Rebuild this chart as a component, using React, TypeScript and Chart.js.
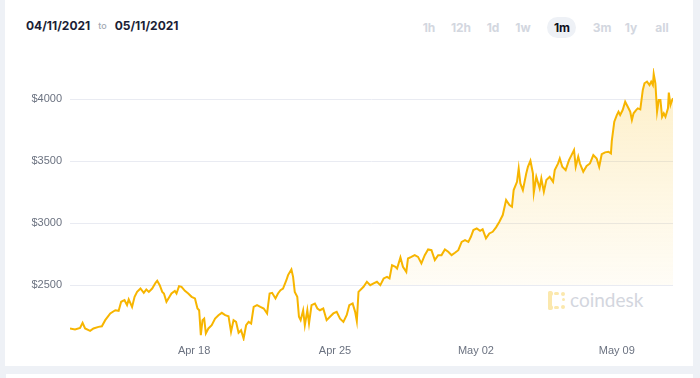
import React, { useEffect, useRef } from "react";
import { Chart, registerables } from "chart.js";

Chart.register(...registerables);

// hours since 2021-04-11 00:00
const hours = [
  20, 26, 32, 35, 38, 44, 48, 54, 58, 62, 68, 74, 78, 81, 85, 88, 90, 94, 97, 100,
  104, 108, 111, 114, 118, 122, 124, 127, 130, 132, 135, 139, 141, 145, 147, 150, 153, 157, 161, 165,
  169, 172, 174, 176, 178, 180, 182, 185, 189, 193, 197, 201, 205, 209, 212, 215, 218, 221, 224, 227,
  230, 233, 236, 239, 243, 247, 251, 255, 258, 261, 265, 268, 271, 274, 278, 280, 284, 286, 288, 291,
  293, 295, 298, 300, 303, 305, 308, 312, 315, 318, 322, 326, 330, 334, 338, 342, 346, 350, 353, 357,
  360, 362, 364, 370, 374, 378, 382, 386, 390, 394, 398, 401, 404, 408, 410, 414, 417, 421, 423, 427,
  431, 435, 439, 443, 447, 451, 455, 459, 463, 467, 471, 475, 479, 483, 487, 491, 495, 498, 501, 505,
  509, 512, 516, 520, 524, 528, 532, 536, 540, 544, 547, 549, 553, 555, 557, 560, 564, 566, 569, 572,
  573, 576, 580, 582, 585, 588, 592, 596, 598, 602, 604, 607, 611, 615, 618, 621, 623, 626, 628, 632,
  636, 640, 644, 648, 651, 654, 658, 662, 665, 666, 669, 672, 674, 676, 679, 682, 684, 688, 690, 692,
  695, 697, 700, 703, 705, 708, 711, 713, 715, 716, 718, 720, 722, 724, 726, 728, 730, 733, 734, 736,
  738, 739,
];

const prices = [
  2151, 2143, 2156, 2196, 2151, 2132, 2151, 2164, 2169, 2218, 2272, 2298, 2293, 2366, 2379, 2339, 2385, 2325, 2406, 2446,
  2473, 2438, 2465, 2446, 2473, 2519, 2535, 2500, 2446, 2433, 2366, 2411, 2433, 2454, 2433, 2492, 2487, 2454, 2433, 2406,
  2393, 2312, 2298, 2097, 2218, 2231, 2111, 2151, 2177, 2231, 2258, 2277, 2258, 2250, 2124, 2218, 2204, 2116, 2137, 2070,
  2177, 2204, 2191, 2325, 2339, 2325, 2312, 2272, 2433, 2438, 2393, 2433, 2460, 2473, 2540, 2581, 2627, 2567, 2446, 2406,
  2245, 2218, 2298, 2177, 2298, 2191, 2339, 2352, 2312, 2298, 2312, 2218, 2245, 2272, 2285, 2230, 2204, 2260, 2339, 2352,
  2285, 2210, 2446, 2487, 2527, 2500, 2514, 2527, 2500, 2554, 2567, 2554, 2661, 2648, 2634, 2723, 2648, 2607, 2715, 2728,
  2742, 2728, 2675, 2742, 2788, 2782, 2702, 2742, 2742, 2788, 2769, 2742, 2761, 2782, 2849, 2863, 2849, 2890, 2944, 2958,
  2938, 2950, 2877, 2917, 2930, 2966, 3011, 3065, 3186, 3145, 3132, 3266, 3333, 3441, 3320, 3266, 3400, 3454, 3503, 3400,
  3245, 3373, 3280, 3360, 3253, 3347, 3373, 3333, 3427, 3481, 3521, 3454, 3427, 3508, 3548, 3589, 3454, 3535, 3480, 3414,
  3460, 3481, 3548, 3521, 3454, 3555, 3570, 3575, 3562, 3660, 3817, 3871, 3898, 3871, 3911, 3978, 3952, 3898, 3831, 3885,
  3911, 3925, 3917, 4073, 4127, 4140, 4113, 4140, 4113, 4202, 4127, 3898, 3992, 3992, 3857, 3885, 3857, 3925, 4052, 3952,
  3992, 4006,
];

const xTickHours = [168, 336, 504, 672];
const xTickLabels = ["Apr 18", "Apr 25", "May 02", "May 09"];
const yTickValues = [2500, 3000, 3500, 4000];
const yMin = 2050;
const yMax = 4250;
const fillFloor = 2500;

const ranges = ["1h", "12h", "1d", "1w", "1m", "3m", "1y", "all"];
const activeRange = "1m";
const fromDate = "04/11/2021";
const toDate = "05/11/2021";

const rangeX = [429, 461, 493, 523, 562, 602, 631, 662];

export default function App() {
  const canvasRef = useRef<HTMLCanvasElement | null>(null);

  useEffect(() => {
    const canvas = canvasRef.current;
    if (!canvas) return;
    const points = hours.map((h, i) => ({ x: h, y: prices[i] }));
    const chart = new Chart(canvas, {
      type: "line",
      data: {
        datasets: [
          {
            data: points,
            borderColor: "#f7b500",
            borderWidth: 2,
            pointRadius: 0,
            tension: 0,
            fill: "start",
            backgroundColor: (context: any) => {
              const { chart } = context;
              const area = chart.chartArea;
              const ys = chart.scales && chart.scales.y;
              if (!area || !ys) return "rgba(247,181,0,0.1)";
              const floorPx = ys.getPixelForValue(fillFloor);
              const f = Math.min(0.999, Math.max(0, (floorPx - area.top) / (area.bottom - area.top)));
              const g = chart.ctx.createLinearGradient(0, area.top, 0, area.bottom);
              g.addColorStop(0, "rgba(248,190,30,0.25)");
              g.addColorStop(f * 0.6, "rgba(248,190,30,0.12)");
              g.addColorStop(f, "rgba(248,190,30,0.04)");
              g.addColorStop(Math.min(1, f + 0.001), "rgba(248,190,30,0)");
              g.addColorStop(1, "rgba(248,190,30,0)");
              return g;
            },
          },
        ],
      },
      options: {
        animation: false,
        responsive: false,
        devicePixelRatio: 1,
        layout: { padding: { top: 68, right: 27, left: 0, bottom: 0 } },
        plugins: { legend: { display: false }, tooltip: { enabled: false } },
        scales: {
          x: {
            type: "linear",
            min: hours[0],
            max: hours[hours.length - 1],
            afterFit: (scale: any) => {
              scale.height = 37;
            },
            afterBuildTicks: (scale: any) => {
              scale.ticks = xTickHours.map((v) => ({ value: v }));
            },
            border: { display: false },
            grid: { display: false, drawTicks: false },
            ticks: {
              padding: 3,
              maxRotation: 0,
              autoSkip: false,
              color: "#6b7280",
              font: { family: "'Liberation Sans', Arial, sans-serif", size: 11 },
              callback: (value: any) => {
                const i = xTickHours.indexOf(Number(value));
                return i >= 0 ? xTickLabels[i] : "";
              },
            },
          },
          y: {
            type: "linear",
            min: yMin,
            max: yMax,
            afterFit: (scale: any) => {
              scale.width = 70;
            },
            afterBuildTicks: (scale: any) => {
              scale.ticks = yTickValues.map((v) => ({ value: v }));
            },
            border: { display: false },
            grid: { color: "#e9ebf2", lineWidth: 1, drawTicks: false },
            ticks: {
              padding: 8,
              color: "#6b7280",
              font: { family: "'Liberation Sans', Arial, sans-serif", size: 11 },
              callback: (value: any) => "$" + value,
            },
          },
        },
      },
    });
    return () => chart.destroy();
  }, []);

  const dot = (left: number, top: number, w: number, h: number) => (
    <div
      style={{
        position: "absolute",
        left,
        top,
        width: w,
        height: h,
        borderRadius: 3,
        background: "#fbe8ad",
      }}
    />
  );

  return (
    <div
      style={{
        position: "fixed",
        left: 0,
        top: 0,
        width: 700,
        height: 378,
        background: "#eef1f6",
        overflow: "hidden",
        fontFamily: "Inter, 'Noto Sans', sans-serif",
      }}
    >
      <div style={{ position: "absolute", left: 5, top: 0, width: 688, height: 366, background: "#ffffff" }} />
      <div style={{ position: "absolute", left: 6, top: 374, width: 687, height: 10, background: "#ffffff" }} />

      {/* header dates */}
      <div
        style={{
          position: "absolute",
          left: 26,
          top: 17,
          height: 16,
          display: "flex",
          alignItems: "center",
          whiteSpace: "nowrap",
        }}
      >
        <span style={{ fontSize: 12, fontWeight: 700, color: "#1b1e36" }}>{fromDate}</span>
        <span style={{ fontSize: 9, fontWeight: 500, color: "#a3a8b4", margin: "1px 8px 0 8px" }}>to</span>
        <span style={{ fontSize: 12, fontWeight: 700, color: "#1b1e36" }}>{toDate}</span>
      </div>

      {/* range pill */}
      <div
        style={{
          position: "absolute",
          left: 547,
          top: 17,
          width: 29,
          height: 21,
          borderRadius: 11,
          background: "#eef1f6",
        }}
      />
      {ranges.map((r, i) => (
        <div
          key={r}
          style={{
            position: "absolute",
            left: rangeX[i] - 20,
            top: 20,
            width: 40,
            height: 16,
            lineHeight: "16px",
            textAlign: "center",
            fontSize: 12,
            fontWeight: 700,
            color: r === activeRange ? "#0f1020" : "#d3d7df",
          }}
        >
          {r}
        </div>
      ))}

      {/* watermark */}
      <div style={{ position: "absolute", left: 548, top: 291, width: 20, height: 19 }}>
        {dot(0, 0, 5, 5)}
        {dot(0, 0, 4, 19)}
        {dot(0, 14, 5, 5)}
        {dot(6, 1, 5, 3)}
        {dot(6, 15, 5, 3)}
        {dot(13, 1, 4, 4)}
        {dot(13, 14, 4, 4)}
        {dot(14, 7, 3, 3)}
      </div>
      <div
        style={{
          position: "absolute",
          left: 570,
          top: 287,
          height: 26,
          lineHeight: "26px",
          fontSize: 19,
          fontFamily: "Lato, 'Open Sans', sans-serif",
          color: "#d3d6de",
          whiteSpace: "nowrap",
        }}
      >
        coindesk
      </div>

      <canvas
        ref={canvasRef}
        width={700}
        height={378}
        style={{ position: "absolute", left: 0, top: 0, width: 700, height: 378 }}
      />
    </div>
  );
}
